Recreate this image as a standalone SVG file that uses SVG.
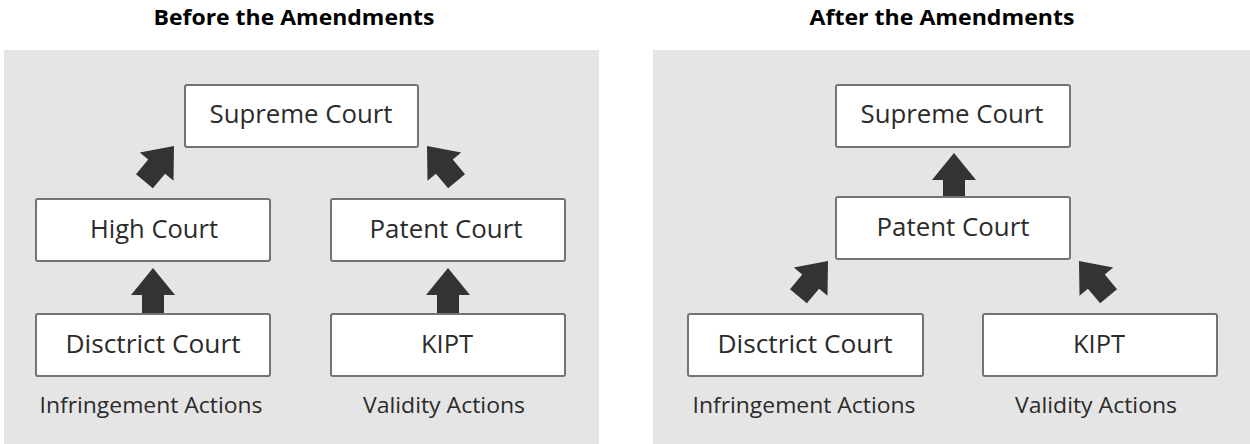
<svg xmlns="http://www.w3.org/2000/svg" width="1250" height="444" viewBox="0 0 1250 444">
<defs>
<style>
.panel{fill:#e5e5e5}
.box{fill:#ffffff;stroke:#737373;stroke-width:2}
.t{font-family:"Open Sans","Liberation Sans",sans-serif;font-size:25px;fill:#2b2b2b;text-anchor:middle}
.lbl{font-family:"Open Sans","Liberation Sans",sans-serif;font-size:21px;fill:#2b2b2b;text-anchor:middle}
.ttl{font-family:"Open Sans","Liberation Sans",sans-serif;font-size:21px;font-weight:bold;fill:#000;text-anchor:middle}
.arr{fill:#333333}
</style>
<path id="ar" d="M0,0 L22,27 L11,27 L11,46 L-11,46 L-11,27 L-22,27 Z"/>
</defs>
<rect width="1250" height="444" fill="#ffffff"/>
<g id="titles">
<text class="ttl" x="294" y="25" textLength="281" lengthAdjust="spacingAndGlyphs">Before the Amendments</text>
<text class="ttl" x="942" y="25" textLength="265" lengthAdjust="spacingAndGlyphs">After the Amendments</text>
</g>
<g id="panels">
<rect class="panel" x="4" y="50" width="595" height="394"/>
<rect class="panel" x="653" y="50" width="597" height="394"/>
</g>
<g id="connectors" class="arr">
<use href="#ar" transform="translate(174,146) rotate(40)"/>
<use href="#ar" transform="translate(427,146) rotate(-40)"/>
<use href="#ar" transform="translate(153,268)"/>
<use href="#ar" transform="translate(448,268)"/>
<use href="#ar" transform="translate(954,153)"/>
<use href="#ar" transform="translate(828,261) rotate(40)"/>
<use href="#ar" transform="translate(1079,261) rotate(-40)"/>
</g>
<g id="before-supreme">
<rect class="box" x="185" y="85" width="233" height="62" rx="2"/>
<text class="t" x="301" y="123" textLength="183" lengthAdjust="spacingAndGlyphs">Supreme Court</text>
</g>
<g id="before-high">
<rect class="box" x="36" y="199" width="234" height="62" rx="2"/>
<text class="t" x="154" y="238" textLength="128" lengthAdjust="spacingAndGlyphs">High Court</text>
</g>
<g id="before-patent">
<rect class="box" x="331" y="199" width="234" height="62" rx="2"/>
<text class="t" x="446" y="238" textLength="153" lengthAdjust="spacingAndGlyphs">Patent Court</text>
</g>
<g id="before-district">
<rect class="box" x="36" y="314" width="234" height="62" rx="2"/>
<text class="t" x="153" y="353" textLength="175" lengthAdjust="spacingAndGlyphs">Disctrict Court</text>
</g>
<g id="before-kipt">
<rect class="box" x="331" y="314" width="234" height="62" rx="2"/>
<text class="t" x="447" y="353" textLength="52" lengthAdjust="spacingAndGlyphs">KIPT</text>
</g>
<g id="before-labels">
<text class="lbl" x="151" y="413" textLength="223" lengthAdjust="spacingAndGlyphs">Infringement Actions</text>
<text class="lbl" x="444" y="413" textLength="162" lengthAdjust="spacingAndGlyphs">Validity Actions</text>
</g>
<g id="after-supreme">
<rect class="box" x="836" y="85" width="234" height="62" rx="2"/>
<text class="t" x="952" y="123" textLength="183" lengthAdjust="spacingAndGlyphs">Supreme Court</text>
</g>
<g id="after-patent">
<rect class="box" x="836" y="197" width="234" height="62" rx="2"/>
<text class="t" x="953" y="236" textLength="153" lengthAdjust="spacingAndGlyphs">Patent Court</text>
</g>
<g id="after-district">
<rect class="box" x="688" y="314" width="235" height="62" rx="2"/>
<text class="t" x="805" y="353" textLength="175" lengthAdjust="spacingAndGlyphs">Disctrict Court</text>
</g>
<g id="after-kipt">
<rect class="box" x="983" y="314" width="234" height="62" rx="2"/>
<text class="t" x="1099" y="353" textLength="52" lengthAdjust="spacingAndGlyphs">KIPT</text>
</g>
<g id="after-labels">
<text class="lbl" x="804" y="413" textLength="223" lengthAdjust="spacingAndGlyphs">Infringement Actions</text>
<text class="lbl" x="1096" y="413" textLength="162" lengthAdjust="spacingAndGlyphs">Validity Actions</text>
</g>
</svg>
